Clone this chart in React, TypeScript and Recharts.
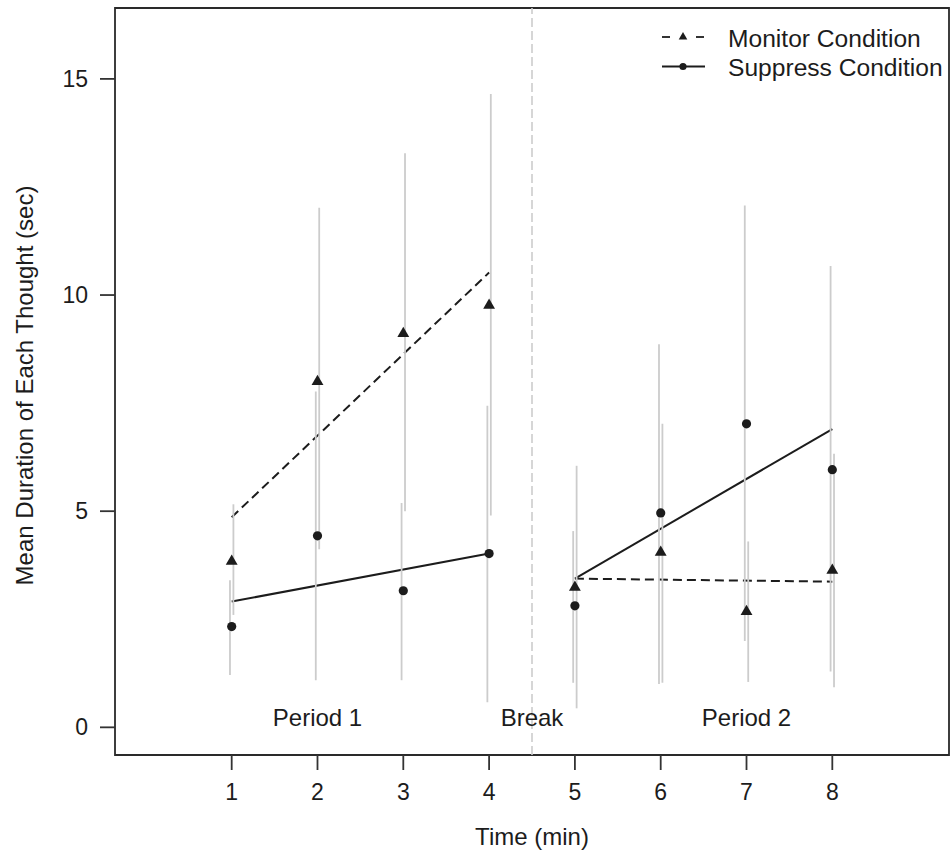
import React from 'react';
import {
  ComposedChart,
  XAxis,
  YAxis,
  Scatter,
  Line,
  ErrorBar,
  ReferenceLine,
  ReferenceArea,
  Legend,
} from 'recharts';

// ---- data ----
const timePoints = [1, 2, 3, 4, 5, 6, 7, 8];
const monitorMeans = [3.84, 8.0, 9.11, 9.76, 3.24, 4.05, 2.68, 3.63];
const suppressMeans = [2.33, 4.43, 3.16, 4.02, 2.81, 4.96, 7.02, 5.96];
const monitorLow = [2.6, 4.12, 5.0, 4.9, 0.44, 1.03, 1.05, 0.93];
const monitorHigh = [5.16, 12.02, 13.28, 14.65, 6.05, 7.02, 4.3, 6.33];
const suppressLow = [1.21, 1.09, 1.09, 0.58, 1.03, 1.0, 2.0, 1.29];
const suppressHigh = [3.4, 7.77, 5.19, 7.44, 4.54, 8.86, 12.07, 10.67];

const monitorFitP1 = [
  { x: 1, y: 4.86 },
  { x: 4, y: 10.52 },
];
const suppressFitP1 = [
  { x: 1, y: 2.91 },
  { x: 4, y: 4.02 },
];
const monitorFitP2 = [
  { x: 5, y: 3.44 },
  { x: 8, y: 3.37 },
];
const suppressFitP2 = [
  { x: 5, y: 3.44 },
  { x: 8, y: 6.9 },
];

const xTicks = [1, 2, 3, 4, 5, 6, 7, 8];
const yTicks = [0, 5, 10, 15];
const xDomain: [number, number] = [-0.36, 9.36];
const yDomain: [number, number] = [-0.64, 16.64];
const breakX = 4.5;
const barOffset = 0.02;

const periodLabels = [
  { x: 2, y: 0.2, label: 'Period 1' },
  { x: 4.5, y: 0.2, label: 'Break' },
  { x: 7, y: 0.2, label: 'Period 2' },
];

const legendItems = [
  { name: 'Monitor Condition', symbol: 'triangle', dashed: true },
  { name: 'Suppress Condition', symbol: 'circle', dashed: false },
];

const FONT = '"Liberation Sans", Arial, Helvetica, sans-serif';
const INK = '#1c1c1c';
const BAR = '#cccccc';

const monitorPts = timePoints.map((x, i) => ({ x, y: monitorMeans[i] }));
const suppressPts = timePoints.map((x, i) => ({ x, y: suppressMeans[i] }));
const monitorBars = timePoints.map((x, i) => ({
  x: x + barOffset,
  y: monitorMeans[i],
  err: [monitorMeans[i] - monitorLow[i], monitorHigh[i] - monitorMeans[i]],
}));
const suppressBars = timePoints.map((x, i) => ({
  x: x - barOffset,
  y: suppressMeans[i],
  err: [suppressMeans[i] - suppressLow[i], suppressHigh[i] - suppressMeans[i]],
}));

const Triangle = (props: any) => {
  const { cx, cy } = props;
  const R = 4.4;
  const top = 1.555 * R;
  const bot = 0.778 * R;
  const hw = 1.347 * R;
  return (
    <polygon
      points={`${cx},${cy - top} ${cx + hw},${cy + bot} ${cx - hw},${cy + bot}`}
      fill={INK}
    />
  );
};

const Circle = (props: any) => {
  const { cx, cy } = props;
  return <circle cx={cx} cy={cy} r={4.6} fill={INK} />;
};

const Empty = () => <g />;

const PeriodText = (props: any) => {
  const { cx, cy, payload } = props;
  return (
    <text
      x={cx}
      y={cy + 7}
      textAnchor="middle"
      fontFamily={FONT}
      fontSize={24}
      fill={INK}
    >
      {payload.label}
    </text>
  );
};

const LegendContent = () => (
  <svg width={300} height={90} style={{ display: 'block', overflow: 'visible' }}>
    {legendItems.map((it, i) => {
      const y = 37 + i * 29.5;
      return (
        <g key={it.name}>
          {it.dashed ? (
            <>
              <line x1={12} x2={20} y1={y} y2={y} stroke={INK} strokeWidth={1.8} />
              <line x1={46} x2={54} y1={y} y2={y} stroke={INK} strokeWidth={1.8} />
            </>
          ) : (
            <line x1={12} x2={55} y1={y} y2={y} stroke={INK} strokeWidth={1.8} />
          )}
          {it.symbol === 'triangle' ? (
            <polygon
              points={`33,${y - 5} 37.3,${y + 2.5} 28.7,${y + 2.5}`}
              fill={INK}
            />
          ) : (
            <circle cx={33} cy={y} r={3.6} fill={INK} />
          )}
          <text x={78} y={y + 9.5} fontFamily={FONT} fontSize={24.6} fill={INK}>
            {it.name}
          </text>
        </g>
      );
    })}
  </svg>
);

export default function App() {
  return (
    <div style={{ position: 'absolute', left: 0, top: 0, width: 952, height: 853, background: '#fff' }}>
      <ComposedChart
        width={952}
        height={853}
        margin={{ top: 8, right: 3, bottom: 0, left: 0 }}
      >
        <XAxis
          type="number"
          dataKey="x"
          domain={xDomain}
          ticks={xTicks}
          allowDataOverflow
          axisLine={false}
          tickSize={15}
          tickMargin={14}
          height={98}
          tickLine={{ stroke: '#333', strokeWidth: 1.8 }}
          tick={{ fontFamily: FONT, fontSize: 23, fill: INK }}
          label={{
            content: (p: any) => {
              const vb = p.viewBox;
              return (
                <text
                  x={vb.x + vb.width / 2}
                  y={vb.y + 90}
                  textAnchor="middle"
                  fontFamily={FONT}
                  fontSize={24}
                  fill={INK}
                >
                  Time (min)
                </text>
              );
            },
          }}
        />
        <YAxis
          type="number"
          dataKey="y"
          domain={yDomain}
          ticks={yTicks}
          allowDataOverflow
          axisLine={false}
          width={115}
          tickSize={15}
          tickMargin={12}
          tickLine={{ stroke: '#333', strokeWidth: 1.8 }}
          tick={{ fontFamily: FONT, fontSize: 23, fill: INK }}
          label={{
            content: (p: any) => {
              const vb = p.viewBox;
              const cy = vb.y + vb.height / 2 + 4;
              return (
                <text
                  x={0}
                  y={0}
                  transform={`translate(32.5, ${cy}) rotate(-90)`}
                  textAnchor="middle"
                  fontFamily={FONT}
                  fontSize={24}
                  fill={INK}
                >
                  Mean Duration of Each Thought (sec)
                </text>
              );
            },
          }}
        />
        <ReferenceArea
          x1={xDomain[0]}
          x2={xDomain[1]}
          y1={yDomain[0]}
          y2={yDomain[1]}
          fill="none"
          stroke="#2a2a2a"
          strokeWidth={1.8}
          ifOverflow="visible"
        />
        <ReferenceLine
          x={breakX}
          stroke={BAR}
          strokeWidth={1.6}
          strokeDasharray="9 4"
        />
        <Line data={monitorFitP1} dataKey="y" type="linear" stroke={INK} strokeWidth={2} strokeDasharray="9 5" dot={false} isAnimationActive={false} />
        <Line data={suppressFitP1} dataKey="y" type="linear" stroke={INK} strokeWidth={2} dot={false} isAnimationActive={false} />
        <Line data={monitorFitP2} dataKey="y" type="linear" stroke={INK} strokeWidth={2} strokeDasharray="9 5" dot={false} isAnimationActive={false} />
        <Line data={suppressFitP2} dataKey="y" type="linear" stroke={INK} strokeWidth={2} dot={false} isAnimationActive={false} />
        <Scatter data={monitorPts} shape={Triangle} isAnimationActive={false} />
        <Scatter data={suppressPts} shape={Circle} isAnimationActive={false} />
        <Scatter data={monitorBars} shape={Empty} isAnimationActive={false}>
          <ErrorBar dataKey="err" direction="y" width={0} stroke={BAR} strokeWidth={1.8} isAnimationActive={false} />
        </Scatter>
        <Scatter data={suppressBars} shape={Empty} isAnimationActive={false}>
          <ErrorBar dataKey="err" direction="y" width={0} stroke={BAR} strokeWidth={1.8} isAnimationActive={false} />
        </Scatter>
        <Scatter data={periodLabels} shape={PeriodText} isAnimationActive={false} />
        <Legend
          layout="vertical"
          align="center"
          verticalAlign="middle"
          content={LegendContent}
          wrapperStyle={{ position: 'absolute', left: 650, top: 0, width: 300, height: 90 }}
        />
      </ComposedChart>
    </div>
  );
}
